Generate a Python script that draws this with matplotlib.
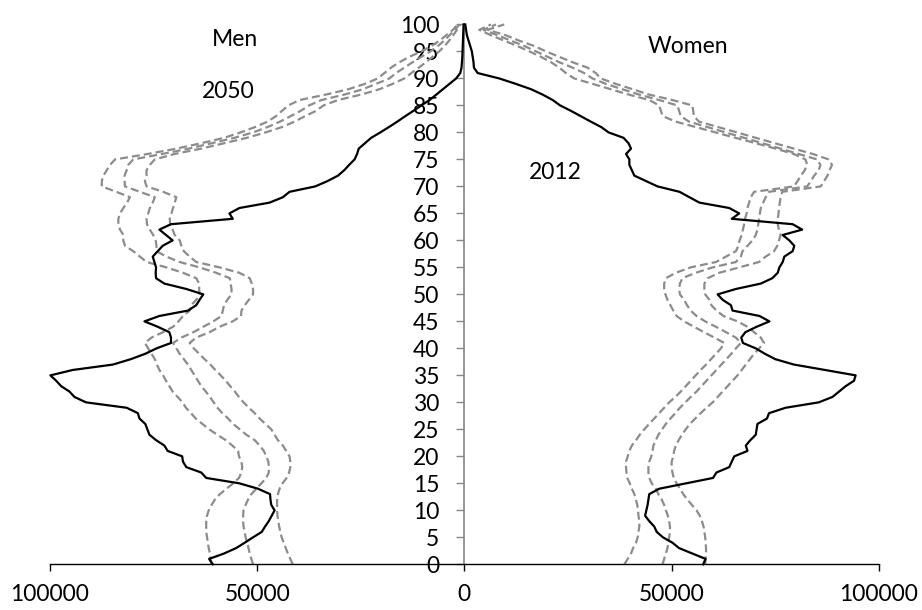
import matplotlib
matplotlib.use("Agg")
import matplotlib.pyplot as plt
from matplotlib.ticker import FuncFormatter
import numpy as np

plt.rcParams['font.family'] = ['Lato', 'DejaVu Sans']

ages = np.arange(0, 101)

# 2012, observed
men_2012 = [60700, 61600, 58000, 55100, 53000, 51000, 48900, 48100, 47200, 46500,
            45800, 46600, 46800, 46900, 49800, 54300, 62300, 63500, 67100, 67900,
            68100, 71600, 72400, 74400, 76000, 76500, 77000, 78400, 78800, 81500,
            91300, 94100, 95300, 97300, 98500, 99900, 94500, 84800, 80500, 77000,
            74300, 70800, 70800, 71200, 74000, 77200, 73600, 66700, 64700, 63900,
            63000, 67100, 72400, 74400, 74500, 74400, 74800, 75200, 74000, 72800,
            70400, 72000, 73600, 70800, 55900, 56700, 54300, 47000, 43800, 42200,
            36000, 33000, 30500, 29000, 27800, 26500, 25900, 25500, 24000, 22500,
            20300, 18200, 16200, 14300, 12300, 10400, 8400, 6800, 5200, 3600,
            2000, 1000, 700, 600, 500, 450, 400, 350, 300, 250, 200]
women_2012 = [57600, 58200, 55000, 51800, 50200, 47900, 46400, 45800, 44600, 43600,
              43900, 44200, 44400, 44600, 47000, 53500, 60000, 60800, 63900, 64500,
              65100, 68300, 67900, 69000, 70300, 70500, 70700, 73000, 73500, 77500,
              85500, 88800, 90400, 92000, 94000, 94400, 87000, 79500, 75000, 72500,
              70300, 67200, 66800, 67800, 70500, 73600, 71200, 64700, 64300, 62300,
              61100, 65500, 71500, 74300, 75600, 76000, 76800, 77200, 79200, 79600,
              78400, 76800, 81500, 79200, 64500, 66300, 63900, 56700, 54300, 51900,
              46600, 43800, 41000, 40400, 39800, 39800, 39000, 40200, 39600, 38400,
              34800, 33000, 30500, 28100, 25700, 23100, 21300, 18900, 16100, 12400,
              8400, 3200, 2300, 2200, 2000, 1800, 1400, 1000, 600, 400, 200]

# 2050, three projection variants
men_2050_a = [61000, 61300, 61400, 61700, 61900, 62100, 62300, 62300, 62300, 62100,
              61700, 61000, 60200, 59000, 57400, 55800, 54400, 53800, 53600, 53800,
              54400, 54600, 56000, 57600, 59600, 61600, 63200, 64800, 66000, 67200,
              68000, 69200, 70400, 71200, 72000, 72700, 73600, 74200, 74700, 75500,
              76300, 77100, 75500, 72700, 70300, 69000, 67900, 66300, 65900, 64700,
              63900, 64000, 64000, 64700, 67900, 71900, 76700, 78300, 79900, 81900,
              82300, 82300, 83100, 83500, 83500, 83100, 82300, 81400, 80700, 84000,
              87500, 87500, 87100, 86300, 85500, 84300, 76500, 69500, 63500, 58000,
              54000, 50500, 47500, 45500, 44000, 42500, 39800, 33500, 28000, 24000,
              20900, 19300, 17700, 15700, 13300, 10400, 8000, 6000, 4400, 2800, 1600]
men_2050_b = [51000, 51400, 51800, 52100, 52400, 52800, 53000, 53300, 53400, 53400,
              53300, 52800, 52200, 51400, 50200, 49000, 47800, 47200, 47200, 47300,
              47800, 48400, 49400, 50600, 52600, 54200, 55800, 57000, 58400, 59600,
              60500, 61400, 62400, 63500, 64300, 65100, 65900, 66700, 67700, 68700,
              69500, 70300, 68300, 65400, 63000, 60600, 58600, 58300, 58000, 57200,
              56200, 56200, 56400, 56600, 59900, 63900, 68700, 71900, 74300, 74300,
              74500, 75100, 75900, 76600, 76700, 76300, 75900, 75200, 74700, 78300,
              81900, 82000, 82000, 81500, 81100, 79900, 73000, 66500, 61000, 55500,
              51000, 47500, 44500, 42000, 39500, 37500, 34500, 29000, 24500, 21300,
              18100, 16500, 14500, 12500, 10400, 8200, 6400, 4900, 3600, 2300, 1200]
men_2050_c = [41400, 42000, 42600, 43100, 43600, 44100, 44400, 44700, 44900, 45100,
              45200, 45200, 45200, 45000, 44600, 43900, 42900, 42300, 42000, 42000,
              42200, 43000, 43800, 45000, 45800, 46600, 48000, 49400, 50600, 52000,
              53300, 54400, 55400, 56500, 57600, 58800, 60100, 61300, 62700, 64000,
              65300, 66300, 64700, 61500, 59100, 55900, 53900, 53800, 53000, 52000,
              51000, 51000, 51300, 51800, 54300, 59100, 64700, 66300, 67700, 68300,
              68700, 69900, 70400, 71000, 71100, 70700, 70300, 69900, 69500, 72700,
              76700, 77100, 76700, 76700, 75900, 74700, 70000, 63500, 58000, 52500,
              48000, 44000, 41000, 38500, 35800, 34000, 30500, 25000, 20500, 17300,
              14500, 12800, 11000, 9300, 7700, 6100, 4800, 3700, 2700, 1800, 1000]
women_2050_a = [58100, 58200, 58300, 58300, 58200, 58100, 57900, 57700, 57300, 56800,
                56000, 54900, 53800, 52800, 52000, 51200, 50500, 50200, 50000, 50000,
                50400, 50600, 51000, 51700, 52500, 53400, 54400, 55700, 57000, 58400,
                59900, 61100, 62300, 63500, 64700, 65900, 66900, 67900, 68900, 69900,
                71100, 72300, 71500, 69900, 68300, 65900, 62500, 60800, 59600, 59100,
                58100, 57900, 57900, 58700, 61500, 66300, 71100, 72700, 74700, 75500,
                75900, 76300, 75900, 75600, 75600, 75800, 75900, 76100, 76300, 76700,
                86000, 86800, 87600, 88100, 88700, 87900, 84100, 79500, 74900, 70300,
                65800, 61200, 56600, 55400, 55200, 55000, 50200, 44600, 40600, 36500,
                32900, 31700, 29700, 26100, 22900, 19700, 16900, 13200, 10000, 5600, 9600]
women_2050_b = [47800, 48200, 48600, 49000, 49200, 49400, 49600, 49600, 49400, 49100,
                48600, 48200, 47600, 46800, 46200, 45200, 44600, 44400, 44400, 44600,
                45100, 45400, 45600, 46200, 46800, 47700, 48600, 49700, 50900, 52000,
                53300, 54600, 56000, 57200, 58400, 59600, 60800, 62000, 63200, 64400,
                65500, 66700, 65500, 63100, 60700, 58100, 56000, 54600, 53700, 53000,
                52000, 51800, 52000, 52600, 55800, 59900, 65500, 66700, 67100, 68300,
                69500, 70300, 70700, 70900, 71100, 71300, 71500, 72100, 72700, 73500,
                82700, 83600, 84400, 85500, 85900, 85100, 80700, 76300, 71900, 67500,
                63000, 58600, 54200, 52200, 51800, 51400, 47000, 42200, 38100, 34100,
                30900, 28900, 26100, 22900, 20100, 17300, 14500, 11200, 8000, 4600, 7600]
women_2050_c = [38600, 39400, 40200, 40700, 41400, 41800, 42000, 42200, 42200, 42000,
                41900, 41700, 41400, 41000, 40400, 39900, 39300, 39100, 39000, 39000,
                39400, 39800, 40400, 41400, 42300, 43400, 44600, 45800, 47000, 48200,
                49400, 50900, 52200, 53400, 54600, 55800, 57000, 58300, 59500, 60700,
                61900, 62700, 60300, 57800, 55400, 53000, 51200, 50400, 49700, 49000,
                48500, 48200, 48200, 48600, 51000, 54600, 60700, 63100, 65500, 66100,
                66400, 66900, 67200, 67500, 67700, 68100, 68300, 68700, 69100, 69900,
                79500, 80400, 81200, 82100, 82700, 82300, 79500, 75100, 70300, 65400,
                60600, 55800, 51000, 47900, 47400, 47000, 44600, 39700, 35300, 30900,
                26500, 24500, 22900, 20900, 18500, 15700, 12800, 9600, 6400, 3600, 6400]

x_ticks = [-100000, -50000, 0, 50000, 100000]
y_ticks = list(range(0, 101, 5))

fig = plt.figure(figsize=(9.22, 6.10), dpi=100)
ax = fig.add_axes([0.0542, 0.0749, 0.899, 0.885])

gray = '#8c8c8c'
for men, women in [(men_2050_a, women_2050_a), (men_2050_b, women_2050_b), (men_2050_c, women_2050_c)]:
    ax.plot(-np.array(men), ages, color=gray, lw=1.6, dashes=(3.6, 1.8), clip_on=False)
    ax.plot(women, ages, color=gray, lw=1.6, dashes=(3.6, 1.8), clip_on=False)

ax.plot(-np.array(men_2012), ages, color='black', lw=1.6, clip_on=False)
ax.plot(women_2012, ages, color='black', lw=1.6, clip_on=False)

ax.set_xlim(-100000, 100000)
ax.set_ylim(0, 100)
ax.set_xticks(x_ticks)
ax.set_yticks(y_ticks)
ax.xaxis.set_major_formatter(FuncFormatter(lambda v, p: f"{abs(int(v))}"))

for s in ['top', 'right']:
    ax.spines[s].set_visible(False)
ax.spines['left'].set_position(('data', 0))
ax.spines['left'].set_color('#868686')
ax.spines['left'].set_linewidth(1.2)
ax.spines['left'].set_zorder(0.5)
ax.spines['bottom'].set_color('black')
ax.spines['bottom'].set_linewidth(1.0)

ax.tick_params(axis='y', direction='out', length=6, width=1.0, color='#868686',
               labelsize=16.5, pad=12)
ax.tick_params(axis='x', direction='out', length=5, width=1.0, color='black',
               labelsize=16.5, pad=9)
for lab in ax.get_yticklabels():
    lab.set_zorder(0)

ax.text(-55400, 97.3, 'Men', fontsize=16.5, ha='center', va='center')
ax.text(-57100, 87.6, '2050', fontsize=16.5, ha='center', va='center')
ax.text(54000, 96.0, 'Women', fontsize=16.5, ha='center', va='center')
ax.text(21900, 72.6, '2012', fontsize=16.5, ha='center', va='center')

fig.savefig('out.png', dpi=100)
